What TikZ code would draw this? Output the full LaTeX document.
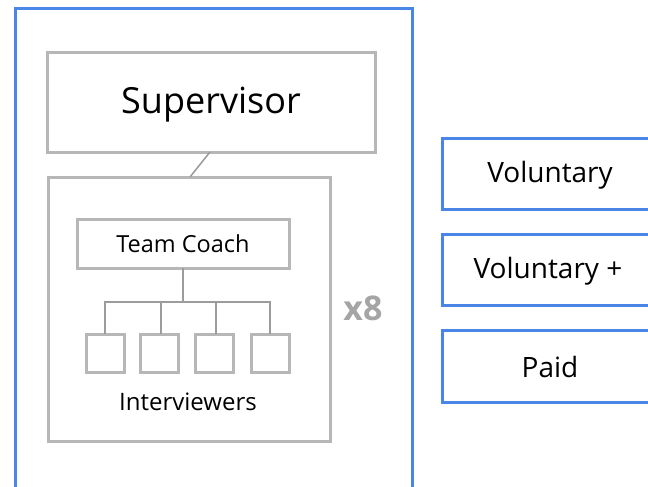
\documentclass[tikz,border=0pt]{standalone}
\usepackage{fontspec}
\setmainfont{Open Sans}
\definecolor{blu}{HTML}{4A86E8}
\definecolor{gry}{HTML}{B7B7B7}
\begin{document}
\begin{tikzpicture}[x=1pt,y=-1pt,
  bluebox/.style={draw=blu,line width=3pt},
  graybox/.style={draw=gry,line width=3pt},
  thin/.style={draw=gry!85!black,line width=1.5pt},
  lbl/.style={text=black,inner sep=0pt,anchor=center}]
\useasboundingbox (0,0) rectangle (648,487);
\begin{scope}
\clip (0,0) rectangle (648,487);
\draw[bluebox] (15,500) -- (15,9) -- (412,9) -- (412,500);
\draw[bluebox] (660,138) -- (442,138) -- (442,209) -- (660,209);
\draw[bluebox] (660,234) -- (442,234) -- (442,305) -- (660,305);
\draw[bluebox] (660,330) -- (442,330) -- (442,402) -- (660,402);
\end{scope}
\node[lbl] (vol) at (550,175) {\fontsize{28}{32}\selectfont Voluntary};
\node[lbl] (volp) at (548,271) {\fontsize{28}{32}\selectfont Voluntary +};
\node[lbl] (paid) at (550,367) {\fontsize{28}{32}\selectfont Paid};
% supervisor
\draw[graybox] (47,53) rectangle (375,152);
\coordinate (supb) at (210,152);
\node[lbl] (sup) at (211,105) {\fontsize{36}{42}\selectfont Supervisor};
% group
\draw[graybox] (48,177) rectangle (330,441);
\coordinate (grpt) at (190,177);
\draw[thin] (supb) -- (grpt);
% team coach
\draw[graybox] (77,219) rectangle (289,268);
\node[lbl] (tc) at (183,244) {\fontsize{23.5}{28}\selectfont Team Coach};
\coordinate (tcb) at (183,268);
\coordinate (hub) at (183,302);
\foreach \i/\xl/\xc in {1/86/105,2/140/161,3/195/216,4/251/270}{
  \draw[graybox] (\xl,334) rectangle ++(38,38);
  \coordinate (i\i) at (\xc,334);
}
\draw[thin] (tcb) -- (hub);
\draw[thin] (i1) |- (hub) -| (i4);
\draw[thin] (i2) -- (i2 |- hub);
\draw[thin] (i3) -- (i3 |- hub);
\node[lbl] (iv) at (188,402) {\fontsize{24}{28}\selectfont Interviewers};
\node[lbl,text=gry!90!black] (x8) at (363,308) {\fontsize{34}{40}\selectfont\bfseries x8};
\end{tikzpicture}
\end{document}
